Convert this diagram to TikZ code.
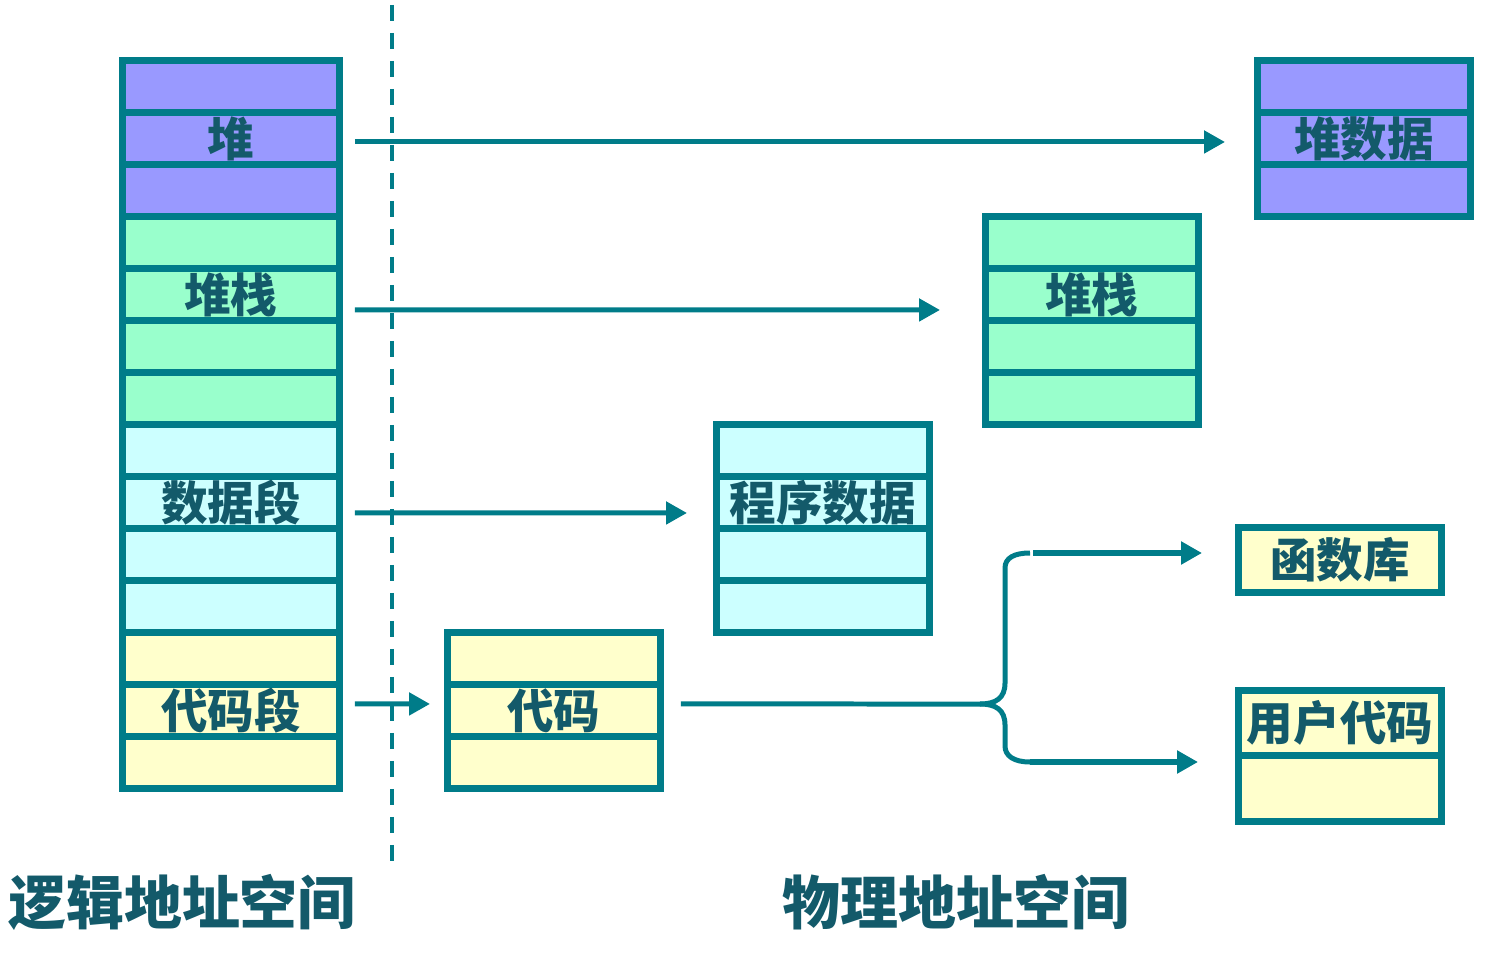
\documentclass[tikz,border=0pt]{standalone}
\usepackage{fontspec}
\newfontfamily\cjk{Noto Sans CJK SC}
\usetikzlibrary{arrows.meta,positioning}
\definecolor{border}{HTML}{007C89}
\definecolor{ink}{HTML}{135A6A}
\definecolor{heapc}{HTML}{9999FF}
\definecolor{stackc}{HTML}{99FFCC}
\definecolor{datac}{HTML}{CCFFFF}
\definecolor{codec}{HTML}{FFFFCC}
\begin{document}
\begin{tikzpicture}[x=0.02cm, y=-0.02cm,
    cell/.style={draw=border, line width=0.14cm, minimum width=4.34cm, minimum height=1.04cm,
      inner sep=0pt, outer sep=0pt, anchor=north west, text=ink,
      font=\cjk\bfseries\fontsize{26.5pt}{30pt}\selectfont},
    pcell/.style={cell, minimum width=4.26cm},
    small/.style={cell, minimum width=4.06cm, minimum height=1.31cm},
    arr/.style={draw=border, line width=0.1cm, -{Triangle[length=0.42cm, width=0.44cm]}},
    brace/.style={draw=border, line width=0.1cm},
    title/.style={text=ink, font=\cjk\bfseries\fontsize{33pt}{38pt}\selectfont}]
    \useasboundingbox (0,0) rectangle (1496,962);

    \node[cell, fill=heapc] (h1) at (122.5,60.5) {};
    \node[cell, fill=heapc, below=0pt of h1] (h2) {堆};
    \node[cell, fill=heapc, below=0pt of h2] (h3) {};
    \node[cell, fill=stackc, below=0pt of h3] (s1) {};
    \node[cell, fill=stackc, below=0pt of s1] (s2) {堆栈};
    \node[cell, fill=stackc, below=0pt of s2] (s3) {};
    \node[cell, fill=stackc, below=0pt of s3] (s4) {};
    \node[cell, fill=datac, below=0pt of s4] (d1) {};
    \node[cell, fill=datac, below=0pt of d1] (d2) {数据段};
    \node[cell, fill=datac, below=0pt of d2] (d3) {};
    \node[cell, fill=datac, below=0pt of d3] (d4) {};
    \node[cell, fill=codec, below=0pt of d4] (c1) {};
    \node[cell, fill=codec, below=0pt of c1] (c2) {代码段};
    \node[cell, fill=codec, below=0pt of c2] (c3) {};

    \node[pcell, fill=heapc] (ph1) at (1257.5,60.5) {};
    \node[pcell, fill=heapc, below=0pt of ph1] (ph2) {堆数据};
    \node[pcell, fill=heapc, below=0pt of ph2] (ph3) {};

    \node[pcell, fill=stackc] (ps1) at (985.5,216.5) {};
    \node[pcell, fill=stackc, below=0pt of ps1] (ps2) {堆栈};
    \node[pcell, fill=stackc, below=0pt of ps2] (ps3) {};
    \node[pcell, fill=stackc, below=0pt of ps3] (ps4) {};

    \node[pcell, fill=datac] (pd1) at (716.5,424.5) {};
    \node[pcell, fill=datac, below=0pt of pd1] (pd2) {程序数据};
    \node[pcell, fill=datac, below=0pt of pd2] (pd3) {};
    \node[pcell, fill=datac, below=0pt of pd3] (pd4) {};

    \node[pcell, fill=codec] (pc1) at (447.5,632.5) {};
    \node[pcell, fill=codec, below=0pt of pc1] (pc2) {代码};
    \node[pcell, fill=codec, below=0pt of pc2] (pc3) {};

    \node[small, fill=codec] (lib) at (1238.5,527.5) {函数库};
    \node[small, fill=codec] (usr1) at (1238.5,690.5) {用户代码};
    \node[small, fill=codec, below=0pt of usr1] (usr2) {};

    \node[title] (lname) at (182,902) {逻辑地址空间};
    \node[title] (pname) at (956,902) {物理地址空间};

    \coordinate (top) at (392,5);
    \coordinate (bot) at (392,870);
    \draw[border, line width=0.08cm, dash pattern=on 0.32cm off 0.24cm] (top) -- (bot);

    \draw[arr, shorten <=0.31cm, shorten >=0.65cm] ([yshift=-0.07cm]h2.east) -- ([yshift=-0.07cm]ph2.west);
    \draw[arr, shorten <=0.31cm, shorten >=0.91cm] ([yshift=-0.31cm]s2.east) -- ([yshift=-0.31cm]ps2.west);
    \draw[arr, shorten <=0.31cm, shorten >=0.59cm] ([yshift=-0.21cm]d2.east) -- ([yshift=-0.21cm]pd2.west);
    \draw[arr, shorten <=0.31cm, shorten >=0.35cm] ([yshift=0.13cm]c2.east) -- ([yshift=0.13cm]pc2.west);

    \coordinate (tip) at (980,704);
    \coordinate (bu) at (1033,553);
    \coordinate (bd) at (1030,762);
    \draw[brace, shorten <=0.41cm] ([yshift=0.13cm]pc2.east) -- (tip);
    \draw[brace] (tip) .. controls (996,704) and (1005,698) .. (1005,683) -- (1005,568)
      .. controls (1005,558) and (1014,553) .. (1030,553);
    \draw[brace] (tip) .. controls (996,704) and (1005,710) .. (1005,725) -- (1005,746)
      .. controls (1005,756) and (1014,762) .. (1030,762);
    \draw[arr, line width=0.12cm, shorten >=0.73cm] (bu) -- (bu -| lib.west);
    \draw[arr, line width=0.12cm, shorten >=0.81cm] (bd) -- (bd -| usr2.west);
\end{tikzpicture}
\end{document}
